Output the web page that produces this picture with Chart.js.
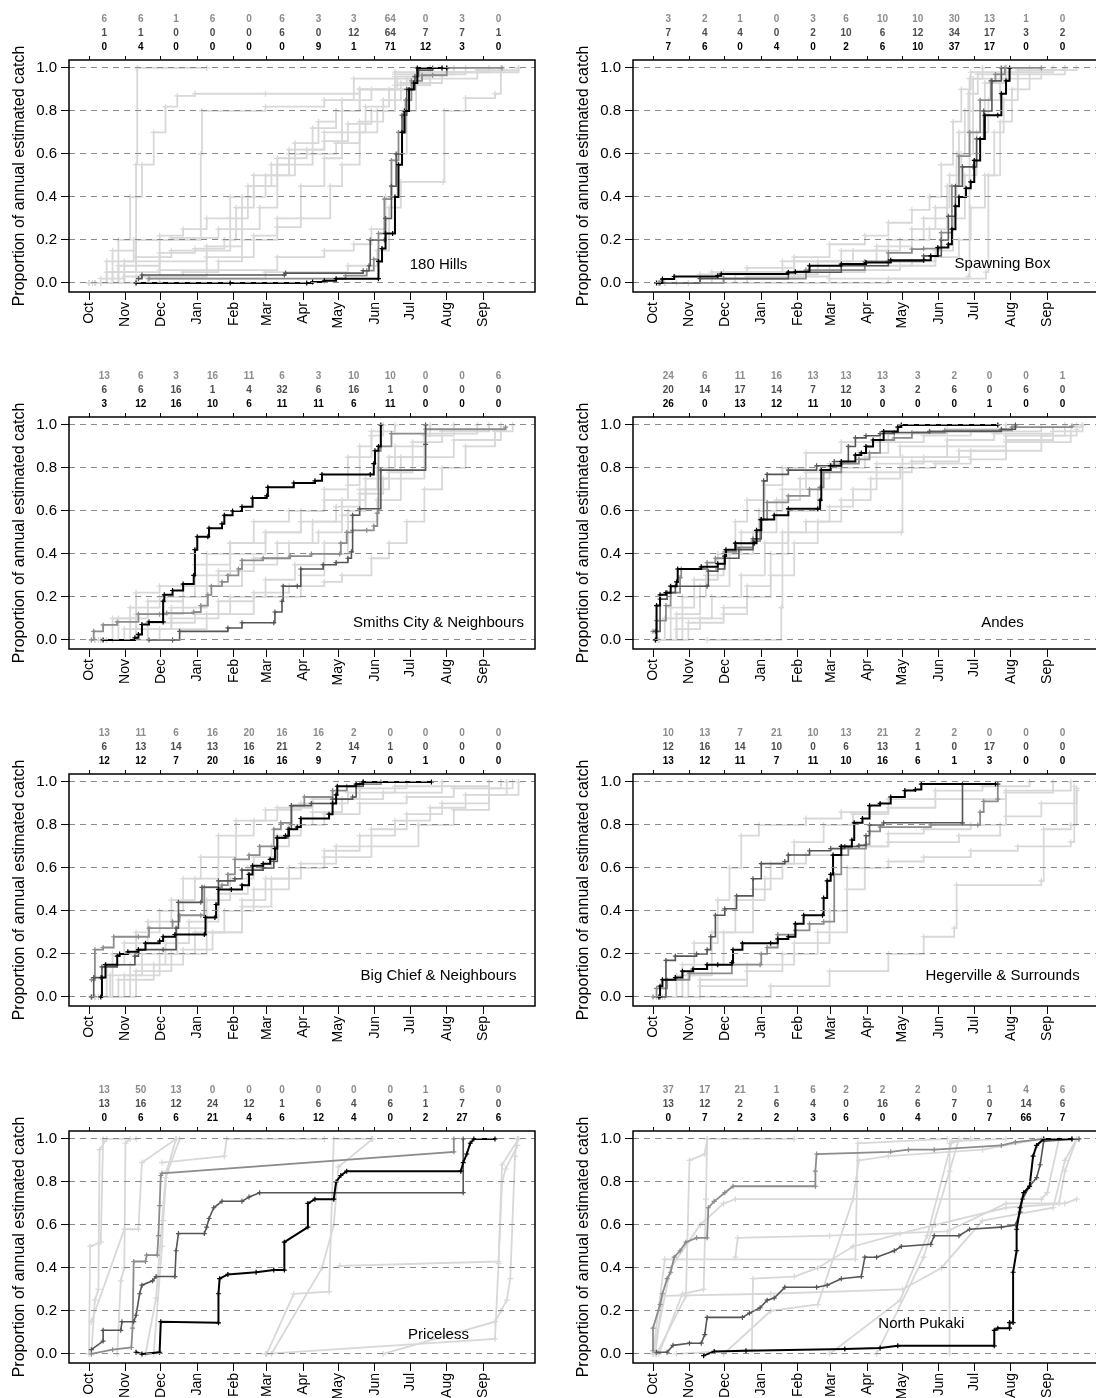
<!DOCTYPE html>
<html>
<head>
<meta charset="utf-8">
<script src="https://cdn.jsdelivr.net/npm/chart.js@4.4.1/dist/chart.umd.min.js"></script>
<style>
  html, body { margin: 0; padding: 0; background: #fff; }
  body { width: 1096px; height: 1398px; overflow: hidden; position: relative; }
  canvas { position: absolute; }
</style>
</head>
<body>
<canvas id="p0" width="548" height="357"></canvas>
<canvas id="p1" width="548" height="357"></canvas>
<canvas id="p2" width="548" height="357"></canvas>
<canvas id="p3" width="548" height="357"></canvas>
<canvas id="p4" width="548" height="357"></canvas>
<canvas id="p5" width="548" height="357"></canvas>
<canvas id="p6" width="548" height="357"></canvas>
<canvas id="p7" width="548" height="357"></canvas>
<script>
// x values are days since 1 October
const months = ["Oct", "Nov", "Dec", "Jan", "Feb", "Mar", "Apr", "May", "Jun", "Jul", "Aug", "Sep"];
const monthStarts = [0, 31, 61, 92, 123, 151, 182, 212, 243, 273, 304, 335];
const yTicks = [0, 0.2, 0.4, 0.6, 0.8, 1.0];

// ---- 180 Hills
const hillsCounts = [
  [6, 6, 1, 6, 0, 6, 3, 3, 64, 0, 3, 0],
  [1, 1, 0, 0, 0, 6, 0, 12, 64, 7, 7, 1],
  [0, 4, 0, 0, 0, 0, 9, 1, 71, 12, 3, 0]
];
const hillsBlack = [[40,0],[120,0],[185,0],[190,0.005],[200,0.01],[210,0.02],[246,0.02],[246,0.1],[249,0.16],[252,0.23],[258,0.23],[260,0.4],[263,0.55],[266,0.7],[268,0.8],[272,0.9],[276,0.93],[279,1.0],[300,1.0],[304,1.0]];
const hillsDarkGrey = [[42,0.02],[45,0.037],[166,0.037],[167,0.046],[233,0.057],[238,0.08],[239,0.2],[251,0.2],[252,0.3],[257,0.45],[261,0.6],[266,0.78],[270,0.9],[277,0.96],[280,0.99],[292,1.0]];
const hillsMidGrey = [[51,0.02],[218,0.034],[236,0.057],[242,0.11],[246,0.23],[251,0.39],[257,0.57],[263,0.7],[269,0.85],[274,0.94],[283,0.966],[292,0.966],[304,1.0],[351,1.0]];
const hillsOthers = [
  [[5,0],[15,0.1],[25,0.2],[35,0.4],[45,0.55],[55,0.7],[65,0.82],[75,0.87],[90,0.88],[150,0.88],[230,0.9],[270,0.95],[330,0.99],[365,1.0]],
  [[10,0.02],[30,0.1],[38,0.2],[40,0.55],[41,1.0],[100,1.0]],
  [[5,0],[20,0.15],[40,0.2],[70,0.21],[110,0.25],[130,0.4],[150,0.5],[170,0.6],[190,0.72],[210,0.8],[230,0.9],[260,0.96],[290,1.0]],
  [[10,0],[30,0.05],[60,0.1],[100,0.15],[120,0.3],[135,0.45],[155,0.55],[170,0.62],[200,0.7],[215,0.85],[225,0.95],[260,0.98],[300,1.0]],
  [[5,0],[30,0.03],[80,0.05],[110,0.1],[130,0.25],[145,0.35],[160,0.5],[175,0.65],[195,0.75],[210,0.8],[230,0.9],[262,0.95],[290,1.0]],
  [[10,0],[60,0.06],[100,0.12],[140,0.22],[160,0.26],[180,0.3],[205,0.45],[215,0.55],[230,0.7],[245,0.8],[260,0.9],[275,0.97],[320,1.0]],
  [[0,0],[40,0.03],[100,0.06],[160,0.12],[200,0.15],[225,0.18],[240,0.25],[252,0.4],[262,0.6],[270,0.8],[278,0.92],[290,0.98],[340,1.0]],
  [[0,0],[50,0.02],[150,0.05],[220,0.08],[245,0.15],[255,0.35],[265,0.47],[301,0.47],[302,0.8],[320,0.86],[345,0.88],[350,0.98],[365,1.0]],
  [[5,0],[25,0.1],[60,0.2],[95,0.6],[96,0.8],[150,0.82],[200,0.85],[240,0.9],[260,0.97],[290,1.0]],
  [[0,0],[20,0.05],[40,0.2],[60,0.22],[80,0.25],[100,0.3],[120,0.4],[140,0.45],[160,0.55],[190,0.6],[210,0.65],[230,0.75],[250,0.85],[265,0.93],[300,0.98],[350,1.0]],
  [[3,0],[15,0.05],[40,0.12],[70,0.15],[100,0.17],[130,0.2],[160,0.3],[180,0.45],[200,0.58],[215,0.7],[235,0.82],[255,0.9],[275,0.97],[310,1.0]],
  [[5,0],[25,0.08],[60,0.14],[90,0.16],[115,0.2],[125,0.35],[140,0.5],[160,0.58],[185,0.62],[200,0.66],[220,0.74],[240,0.8],[260,0.92],[280,0.98]]
];

// ---- Spawning Box
const spawningCounts = [
  [3, 2, 1, 0, 3, 6, 10, 10, 30, 13, 1, 0],
  [7, 4, 4, 0, 2, 10, 6, 12, 34, 17, 3, 2],
  [7, 6, 0, 4, 0, 2, 6, 10, 37, 17, 0, 0]
];
const spawningBlack = [[3,0],[8,0.018],[18,0.03],[55,0.034],[58,0.042],[115,0.049],[121,0.052],[133,0.08],[160,0.088],[181,0.095],[202,0.106],[230,0.106],[236,0.126],[242,0.165],[251,0.18],[254,0.25],[257,0.357],[260,0.4],[266,0.44],[270,0.47],[273,0.57],[278,0.67],[282,0.78],[293,0.78],[296,0.88],[300,0.94],[303,1.0]];
const spawningDarkGrey = [[6,0],[40,0.02],[115,0.05],[160,0.08],[200,0.1],[230,0.126],[245,0.2],[251,0.31],[257,0.45],[263,0.54],[272,0.54],[275,0.67],[281,0.8],[288,0.94],[296,1.0]];
const spawningMidGrey = [[5,0],[60,0.02],[130,0.06],[180,0.1],[200,0.14],[220,0.157],[230,0.16],[245,0.234],[254,0.45],[260,0.59],[269,0.7],[278,0.85],[287,0.94],[291,0.97],[299,1.0],[330,1.0]];
const spawningOthers = [
  [[5,0],[40,0.04],[80,0.07],[120,0.12],[150,0.18],[180,0.22],[200,0.28],[220,0.34],[235,0.4],[245,0.55],[255,0.75],[262,0.9],[270,0.98],[300,1.0]],
  [[10,0],[50,0.05],[110,0.1],[160,0.15],[200,0.2],[230,0.3],[250,0.45],[262,0.6],[272,0.8],[282,0.93],[300,0.98],[340,1.0]],
  [[10,0],[60,0.02],[120,0.05],[180,0.08],[220,0.1],[240,0.15],[255,0.3],[265,0.5],[275,0.7],[285,0.85],[295,0.95],[310,0.99],[350,1.0]],
  [[20,0],[150,0.02],[268,0.03],[269,0.95],[280,1.0]],
  [[30,0],[200,0.02],[283,0.05],[285,0.5],[295,0.75],[305,0.9],[320,0.97],[350,1.0]],
  [[5,0],[60,0.05],[120,0.1],[170,0.15],[210,0.2],[235,0.25],[250,0.4],[258,0.6],[265,0.8],[272,0.95],[300,1.0]],
  [[10,0],[80,0.03],[150,0.06],[210,0.08],[240,0.12],[260,0.2],[270,0.35],[282,0.5],[290,0.7],[298,0.85],[310,0.95],[330,0.99],[360,1.0]],
  [[5,0],[70,0.04],[140,0.1],[190,0.17],[220,0.25],[240,0.35],[252,0.5],[260,0.7],[268,0.88],[276,0.97],[320,1.0]]
];

// ---- Smiths City & Neighbours
const smithsCounts = [
  [13, 6, 3, 16, 11, 6, 3, 10, 10, 0, 0, 6],
  [6, 6, 16, 1, 4, 32, 6, 16, 1, 0, 0, 0],
  [3, 12, 16, 10, 6, 11, 11, 6, 11, 0, 0, 0]
];
const smithsBlack = [[12,0],[39,0.01],[42,0.026],[45,0.072],[51,0.084],[63,0.084],[63,0.18],[64,0.21],[71,0.23],[80,0.26],[89,0.3],[90,0.42],[92,0.48],[101,0.48],[102,0.52],[113,0.54],[115,0.58],[122,0.6],[130,0.62],[139,0.66],[151,0.67],[152,0.71],[174,0.73],[192,0.74],[198,0.77],[239,0.77],[242,0.82],[243,0.88],[246,0.9],[248,1.0]];
const smithsDarkGrey = [[51,0],[71,0],[77,0.04],[118,0.056],[130,0.08],[157,0.08],[158,0.13],[164,0.18],[165,0.25],[177,0.25],[180,0.33],[199,0.35],[210,0.36],[220,0.38],[223,0.41],[224,0.58],[230,0.61],[248,0.79],[286,0.91],[286,1.0]];
const smithsMidGrey = [[2,0],[4,0.04],[12,0.07],[24,0.084],[42,0.12],[60,0.12],[66,0.125],[89,0.13],[95,0.16],[101,0.21],[104,0.25],[113,0.27],[118,0.3],[127,0.33],[130,0.37],[148,0.38],[171,0.39],[189,0.4],[213,0.4],[214,0.45],[219,0.5],[224,0.51],[236,0.51],[242,0.53],[245,0.59],[246,0.88],[248,0.9],[257,0.96],[286,0.98],[354,0.99]];
const smithsOthers = [
  [[5,0],[20,0.1],[40,0.22],[60,0.25],[90,0.3],[120,0.4],[150,0.5],[180,0.6],[200,0.7],[220,0.85],[240,0.95],[250,1.0]],
  [[10,0],[40,0.05],[70,0.15],[100,0.25],[130,0.35],[160,0.45],[190,0.55],[215,0.65],[235,0.75],[255,0.85],[275,0.92],[300,0.97],[340,1.0]],
  [[15,0],[50,0.08],[90,0.12],[120,0.2],[150,0.28],[175,0.35],[200,0.45],[220,0.55],[245,0.65],[265,0.75],[285,0.85],[310,0.93],[350,1.0]],
  [[5,0],[30,0.05],[70,0.1],[110,0.18],[140,0.22],[170,0.25],[200,0.27],[215,0.3],[240,0.38],[255,0.45],[270,0.55],[285,0.7],[300,0.8],[320,0.9],[345,0.97],[360,1.0]],
  [[10,0],[40,0.12],[80,0.2],[100,0.4],[120,0.45],[150,0.5],[180,0.55],[210,0.62],[230,0.7],[245,0.8],[260,0.9],[285,0.95],[310,1.0]],
  [[20,0],[60,0.05],[100,0.12],[140,0.2],[180,0.3],[200,0.4],[220,0.6],[235,0.7],[255,0.78],[275,0.85],[286,0.95],[290,1.0]],
  [[8,0],[35,0.15],[60,0.2],[90,0.35],[120,0.45],[140,0.55],[170,0.6],[200,0.65],[220,0.72],[230,0.9],[240,0.97],[260,1.0]],
  [[5,0],[25,0.1],[50,0.18],[80,0.25],[110,0.32],[140,0.38],[170,0.45],[195,0.5],[215,0.58],[230,0.68],[250,0.75],[265,0.85],[285,0.96],[330,1.0]]
];

// ---- Andes
const andesCounts = [
  [24, 6, 11, 16, 13, 13, 13, 3, 2, 0, 0, 1],
  [20, 14, 17, 14, 7, 12, 3, 2, 6, 0, 6, 0],
  [26, 0, 13, 12, 11, 10, 0, 0, 0, 1, 0, 0]
];
const andesBlack = [[2,0],[3,0.16],[6,0.21],[11,0.22],[15,0.25],[20,0.27],[21,0.33],[41,0.34],[55,0.355],[61,0.39],[62,0.42],[70,0.45],[86,0.45],[88,0.51],[92,0.56],[103,0.58],[115,0.61],[140,0.61],[142,0.65],[143,0.79],[151,0.81],[160,0.83],[172,0.86],[177,0.87],[181,0.9],[187,0.93],[196,0.97],[208,0.99],[211,1.0],[293,1.0]];
const andesDarkGrey = [[2,0.04],[6,0.19],[12,0.22],[19,0.25],[46,0.25],[47,0.32],[55,0.33],[61,0.38],[73,0.42],[85,0.47],[92,0.56],[94,0.74],[97,0.77],[115,0.79],[139,0.81],[154,0.83],[166,0.9],[172,0.94],[181,0.95],[193,0.96],[205,0.965],[235,0.97],[296,0.98],[308,1.0]];
const andesMidGrey = [[0,0.04],[3,0.09],[11,0.16],[15,0.22],[23,0.29],[24,0.33],[46,0.36],[53,0.38],[61,0.41],[71,0.43],[85,0.46],[91,0.56],[97,0.64],[115,0.67],[133,0.7],[142,0.71],[145,0.78],[160,0.82],[175,0.84],[184,0.87],[193,0.93],[205,0.94],[220,0.965],[248,0.975],[305,0.99],[356,0.995]];
const andesOthers = [
  [[2,0],[10,0.1],[25,0.2],[45,0.3],[60,0.4],[75,0.5],[90,0.6],[110,0.7],[130,0.78],[150,0.82],[175,0.87],[200,0.92],[230,0.95],[270,0.97],[330,0.99],[360,1.0]],
  [[5,0],[20,0.05],[40,0.1],[60,0.15],[80,0.25],[100,0.4],[115,0.5],[130,0.55],[150,0.62],[170,0.7],[190,0.78],[220,0.83],[260,0.88],[300,0.93],[340,0.97],[365,1.0]],
  [[3,0],[15,0.15],[35,0.28],[55,0.4],[70,0.55],[80,0.65],[95,0.72],[110,0.8],[130,0.87],[160,0.92],[200,0.96],[250,0.98],[300,1.0]],
  [[46,0],[109,0.15],[110,0.5],[211,0.5],[212,0.85],[250,0.9],[300,0.95],[350,1.0]],
  [[5,0],[25,0.1],[50,0.2],[75,0.3],[95,0.45],[115,0.6],[140,0.7],[160,0.78],[190,0.82],[230,0.85],[270,0.88],[300,0.92],[330,0.95],[360,0.98]],
  [[3,0],[20,0.12],[40,0.25],[65,0.4],[85,0.5],[105,0.65],[125,0.75],[150,0.8],[180,0.85],[210,0.9],[250,0.93],[290,0.96],[340,0.99],[365,1.0]],
  [[5,0],[30,0.08],[60,0.12],[80,0.2],[100,0.3],[120,0.45],[140,0.55],[160,0.65],[185,0.75],[210,0.8],[240,0.82],[270,0.84],[300,0.88],[330,0.92],[355,0.97]]
];

// ---- Big Chief & Neighbours
const bigChiefCounts = [
  [13, 11, 6, 16, 20, 16, 16, 2, 0, 0, 0, 0],
  [6, 13, 14, 13, 16, 21, 2, 14, 1, 0, 0, 0],
  [12, 12, 7, 20, 16, 16, 9, 7, 0, 1, 0, 0]
];
const bigChiefBlack = [[10,0],[11,0.09],[14,0.15],[24,0.19],[26,0.2],[33,0.21],[42,0.22],[48,0.25],[60,0.26],[63,0.28],[73,0.29],[98,0.29],[99,0.37],[107,0.37],[108,0.43],[110,0.5],[121,0.5],[130,0.52],[136,0.57],[139,0.61],[148,0.62],[154,0.64],[158,0.69],[160,0.74],[167,0.75],[170,0.78],[177,0.79],[180,0.83],[204,0.85],[207,0.9],[210,0.94],[211,0.98],[227,0.99],[233,1.0],[291,1.0]];
const bigChiefDarkGrey = [[2,0],[4,0.09],[10,0.09],[11,0.14],[24,0.15],[39,0.19],[42,0.22],[63,0.22],[74,0.32],[76,0.44],[95,0.44],[96,0.51],[110,0.54],[124,0.55],[130,0.59],[148,0.6],[157,0.63],[160,0.74],[169,0.78],[172,0.89],[189,0.9],[207,0.92],[224,0.93],[227,0.98],[233,1.0]];
const bigChiefMidGrey = [[2,0.08],[5,0.22],[12,0.23],[21,0.28],[42,0.28],[51,0.32],[71,0.35],[77,0.38],[95,0.38],[98,0.51],[113,0.52],[118,0.57],[124,0.64],[136,0.66],[145,0.7],[157,0.78],[163,0.81],[172,0.89],[183,0.93],[207,0.96],[219,0.98],[230,0.99],[248,1.0]];
const bigChiefOthers = [
  [[2,0],[15,0.15],[30,0.25],[50,0.35],[70,0.45],[90,0.55],[110,0.65],[125,0.75],[140,0.82],[160,0.88],[190,0.92],[230,0.97],[270,1.0]],
  [[5,0],[30,0.1],[60,0.2],[90,0.3],[115,0.4],[140,0.5],[170,0.6],[200,0.68],[230,0.75],[260,0.82],[290,0.88],[320,0.94],[355,1.0]],
  [[5,0],[25,0.08],[55,0.15],[80,0.22],[105,0.3],[130,0.42],[155,0.55],[180,0.62],[210,0.7],[240,0.78],[270,0.85],[300,0.9],[340,0.97],[360,1.0]],
  [[3,0],[20,0.2],[40,0.3],[60,0.4],[80,0.55],[95,0.65],[110,0.75],[125,0.82],[150,0.87],[180,0.9],[220,0.95],[260,0.98],[300,1.0]],
  [[8,0],[40,0.12],[70,0.2],[100,0.3],[130,0.45],[150,0.55],[170,0.6],[200,0.65],[240,0.7],[280,0.8],[310,0.87],[340,0.94],[365,1.0]],
  [[3,0],[18,0.1],[45,0.2],[75,0.32],[100,0.45],[120,0.55],[140,0.65],[160,0.75],[180,0.8],[200,0.85],[230,0.9],[270,0.93],[310,0.97],[350,1.0]],
  [[5,0],[35,0.15],[65,0.25],[85,0.35],[110,0.48],[135,0.6],[155,0.7],[170,0.8],[190,0.86],[215,0.92],[250,0.95],[300,0.98],[340,1.0]]
];

// ---- Hegerville & Surrounds
const hegervilleCounts = [
  [10, 13, 7, 21, 10, 13, 21, 2, 2, 0, 0, 0],
  [12, 16, 14, 10, 0, 6, 13, 1, 0, 17, 0, 0],
  [13, 12, 11, 7, 11, 10, 16, 6, 1, 3, 0, 0]
];
const hegervilleBlack = [[5,0],[6,0.05],[8,0.08],[19,0.09],[25,0.12],[34,0.13],[46,0.15],[55,0.15],[67,0.16],[68,0.22],[76,0.25],[100,0.25],[106,0.27],[115,0.28],[121,0.34],[128,0.38],[144,0.38],[145,0.46],[148,0.54],[151,0.57],[153,0.66],[160,0.7],[169,0.73],[171,0.81],[178,0.83],[184,0.89],[193,0.9],[202,0.93],[214,0.96],[223,0.965],[228,0.99],[291,0.99]];
const hegervilleDarkGrey = [[6,0],[11,0.17],[19,0.19],[37,0.2],[46,0.22],[49,0.28],[53,0.38],[61,0.41],[71,0.47],[85,0.55],[92,0.62],[112,0.63],[115,0.66],[133,0.68],[151,0.69],[163,0.7],[175,0.705],[181,0.75],[184,0.8],[196,0.81],[263,0.81],[263,0.99],[293,0.99]];
const hegervilleMidGrey = [[0,0],[3,0.04],[12,0.08],[31,0.11],[67,0.15],[91,0.15],[92,0.2],[97,0.23],[106,0.29],[121,0.31],[133,0.34],[145,0.35],[154,0.57],[160,0.66],[166,0.69],[181,0.71],[184,0.77],[193,0.79],[236,0.8],[276,0.8],[278,0.86],[281,0.91],[293,0.92],[293,0.99]];
const hegervilleOthers = [
  [[40,0],[100,0.05],[150,0.12],[200,0.2],[230,0.28],[256,0.32],[258,0.52],[330,0.54],[332,0.78],[355,0.8],[360,0.97]],
  [[5,0],[20,0.1],[35,0.25],[55,0.45],[65,0.6],[75,0.75],[90,0.8],[130,0.83],[160,0.86],[200,0.92],[240,0.96],[280,0.98],[320,1.0]],
  [[3,0],[30,0.1],[50,0.3],[70,0.45],[95,0.55],[110,0.62],[130,0.66],[160,0.7],[200,0.72],[260,0.75],[295,0.8],[300,0.95],[340,1.0]],
  [[10,0],[40,0.05],[80,0.12],[110,0.2],[140,0.3],[165,0.5],[180,0.6],[200,0.63],[230,0.65],[270,0.68],[310,0.7],[355,0.72],[358,0.98]],
  [[5,0],[25,0.15],[60,0.3],[85,0.5],[100,0.62],[120,0.72],[145,0.8],[170,0.85],[200,0.88],[240,0.92],[300,0.96],[355,1.0]],
  [[8,0],[40,0.08],[80,0.15],[120,0.25],[150,0.4],[165,0.6],[180,0.7],[200,0.76],[230,0.78],[270,0.8],[300,0.84],[330,0.9],[360,0.96]]
];

// ---- Priceless
const pricelessCounts = [
  [13, 50, 13, 0, 0, 0, 0, 0, 0, 1, 6, 0],
  [13, 16, 12, 24, 12, 1, 6, 4, 6, 1, 7, 0],
  [0, 6, 6, 21, 4, 6, 12, 4, 0, 2, 27, 6]
];
const pricelessBlack = [[40,0.008],[45,0],[60,0.008],[61,0.15],[110,0.145],[110,0.28],[111,0.35],[118,0.37],[142,0.38],[157,0.39],[166,0.39],[166,0.52],[186,0.59],[186,0.7],[192,0.72],[208,0.72],[210,0.8],[214,0.83],[219,0.85],[316,0.85],[318,0.89],[321,0.93],[324,0.98],[327,1.0],[345,1.0]];
const pricelessDarkGrey = [[2,0.02],[12,0.06],[12,0.11],[27,0.11],[28,0.15],[38,0.15],[40,0.18],[43,0.28],[45,0.32],[54,0.34],[57,0.36],[73,0.36],[74,0.48],[76,0.56],[98,0.56],[100,0.59],[102,0.63],[106,0.68],[113,0.71],[130,0.71],[136,0.73],[145,0.75],[318,0.75],[318,1.0]];
const pricelessMidGrey = [[2,0],[20,0.02],[36,0.03],[37,0.12],[38,0.43],[48,0.43],[49,0.46],[58,0.46],[59,0.55],[60,0.69],[61,0.83],[62,0.84],[310,0.94],[310,1.0]];
const pricelessOthers = [
  [[0,0],[1,0.5],[10,0.52],[12,1.0],[40,1.0]],
  [[2,0],[5,0.25],[8,0.3],[9,0.95],[15,1.0]],
  [[2,0.15],[30,0.58],[42,0.58],[45,0.89],[74,1.0]],
  [[24,0],[27,0.34],[30,0.4],[31,0.98],[35,1.0]],
  [[55,0],[62,0.5],[63,0.62],[66,0.85],[74,1.0]],
  [[48,0],[57,0.26],[65,0.82],[77,1.0]],
  [[62,0.89],[115,0.92],[117,1.0],[200,1.0]],
  [[151,0],[174,0.28],[204,0.29],[208,1.0],[240,1.0]],
  [[155,0],[198,0.4],[208,0.6],[212,0.87],[241,1.0]],
  [[150,0],[345,0.07],[348,0.42],[351,0.8],[354,0.86],[364,0.97]],
  [[213,0.41],[348,0.43],[351,0.88],[365,1.0]],
  [[250,0],[345,0.15],[350,0.2],[355,0.25],[358,0.35],[362,0.92],[364,1.0]]
];

// ---- North Pukaki
const pukakiCounts = [
  [37, 17, 21, 1, 6, 2, 2, 2, 0, 1, 4, 6],
  [13, 12, 2, 6, 4, 0, 16, 6, 7, 0, 14, 6],
  [0, 7, 2, 2, 3, 6, 0, 4, 0, 7, 66, 7]
];
const pukakiBlack = [[43,-0.008],[52,0.012],[79,0.015],[163,0.023],[193,0.028],[208,0.038],[290,0.038],[290,0.11],[293,0.12],[303,0.12],[303,0.146],[306,0.146],[306,0.38],[309,0.48],[309,0.58],[312,0.68],[315,0.75],[320,0.78],[323,0.92],[326,0.97],[332,1.0],[356,1.0]];
const pukakiDarkGrey = [[3,0.008],[12,0.008],[17,0.04],[31,0.05],[41,0.05],[44,0.09],[46,0.17],[76,0.17],[82,0.19],[91,0.215],[97,0.25],[103,0.26],[112,0.31],[139,0.31],[148,0.32],[160,0.35],[177,0.36],[180,0.45],[190,0.45],[205,0.48],[211,0.5],[236,0.51],[239,0.55],[260,0.55],[269,0.58],[296,0.59],[308,0.6],[312,0.66],[314,0.72],[320,0.78],[326,0.82],[329,0.88],[332,0.99],[362,1.0]];
const pukakiMidGrey = [[0,0.015],[0,0.12],[6,0.23],[8,0.28],[12,0.35],[15,0.38],[18,0.45],[23,0.48],[28,0.52],[37,0.54],[46,0.54],[47,0.68],[52,0.71],[61,0.75],[68,0.78],[138,0.78],[138,0.85],[139,0.93],[202,0.94],[217,0.95],[239,0.95],[296,0.97],[308,0.985],[332,1.0],[356,1.0]];
const pukakiOthers = [
  [[0,0],[10,0.44],[172,0.44],[174,0.98],[250,1.0]],
  [[2,0],[8,0.27],[100,0.28],[212,0.3],[245,0.4],[280,0.62],[340,0.68],[350,0.9],[360,1.0]],
  [[5,0],[25,0.28],[43,0.3],[45,0.72],[46,1.0],[120,1.0]],
  [[3,0],[28,0.27],[31,0.9],[44,0.93],[46,1.0]],
  [[70,0.45],[72,0.54],[150,0.55],[250,0.57],[300,0.7],[345,0.7],[350,0.85],[360,1.0]],
  [[150,0],[210,0.25],[233,0.55],[254,0.99],[300,1.0]],
  [[190,0],[230,0.45],[252,0.85],[260,1.0]],
  [[252,0],[252,0.98],[270,1.0]],
  [[0,0],[15,0.4],[40,0.6],[60,0.7],[70,0.72],[330,0.72],[335,0.75],[345,1.0]],
  [[60,0],[100,0.2],[140,0.23],[170,0.72],[175,0.9],[200,0.92],[280,0.95],[330,1.0]],
  [[20,0],[84,0.02],[85,0.35],[120,0.36],[140,0.4],[170,0.5],[210,0.56],[240,0.6],[300,0.68],[350,0.7],[360,0.72]]
];

const panels = [
  { name: "180 Hills", counts: hillsCounts, black: hillsBlack, dark: hillsDarkGrey, mid: hillsMidGrey, others: hillsOthers, stepped: true, labelAt: [297, 0.085] },
  { name: "Spawning Box", counts: spawningCounts, black: spawningBlack, dark: spawningDarkGrey, mid: spawningMidGrey, others: spawningOthers, stepped: true, labelAt: [297, 0.09] },
  { name: "Smiths City & Neighbours", counts: smithsCounts, black: smithsBlack, dark: smithsDarkGrey, mid: smithsMidGrey, others: smithsOthers, stepped: true, labelAt: [297, 0.08] },
  { name: "Andes", counts: andesCounts, black: andesBlack, dark: andesDarkGrey, mid: andesMidGrey, others: andesOthers, stepped: true, labelAt: [297, 0.08] },
  { name: "Big Chief & Neighbours", counts: bigChiefCounts, black: bigChiefBlack, dark: bigChiefDarkGrey, mid: bigChiefMidGrey, others: bigChiefOthers, stepped: true, labelAt: [297, 0.1] },
  { name: "Hegerville & Surrounds", counts: hegervilleCounts, black: hegervilleBlack, dark: hegervilleDarkGrey, mid: hegervilleMidGrey, others: hegervilleOthers, stepped: true, labelAt: [297, 0.1] },
  { name: "Priceless", counts: pricelessCounts, black: pricelessBlack, dark: pricelessDarkGrey, mid: pricelessMidGrey, others: pricelessOthers, stepped: false, labelAt: [297, 0.09] },
  { name: "North Pukaki", counts: pukakiCounts, black: pukakiBlack, dark: pukakiDarkGrey, mid: pukakiMidGrey, others: pukakiOthers, stepped: false, labelAt: [228, 0.14] }
];

Chart.defaults.font.family = '"Liberation Sans", Arial, sans-serif';
Chart.defaults.color = "#000";

const countColours = ["#8c8c8c", "#4d4d4d", "#000"];
const countOffsets = [41, 27, 13];

function series(points, colour, width, stepped, radius) {
  return {
    data: points.map(([x, y]) => ({ x, y })),
    borderColor: colour,
    backgroundColor: colour,
    borderWidth: width,
    pointStyle: "cross",
    pointRadius: radius,
    pointBorderColor: colour,
    pointBorderWidth: 1.2,
    pointHoverRadius: 0,
    stepped: stepped,
    tension: 0,
    fill: false
  };
}

function decor(p) {
  return {
    id: "decor",
    afterDraw(chart) {
      const { ctx, chartArea: a } = chart;
      const x = chart.scales.x, y = chart.scales.y;
      ctx.save();
      ctx.textAlign = "center";
      ctx.textBaseline = "middle";
      ctx.font = 'bold 10px "Liberation Sans"';
      p.counts.forEach((row, r) => {
        ctx.fillStyle = countColours[r];
        row.forEach((n, i) => {
          ctx.fillText(String(n), x.getPixelForValue(monthStarts[i] + 13), a.top - countOffsets[r]);
        });
      });
      ctx.fillStyle = "#000";
      ctx.font = '15px "Liberation Sans"';
      ctx.fillText(p.name, x.getPixelForValue(p.labelAt[0]), y.getPixelForValue(p.labelAt[1]));
      ctx.strokeStyle = "#000";
      ctx.lineWidth = 1.5;
      ctx.strokeRect(a.left, a.top, a.right - a.left, a.bottom - a.top);
      ctx.restore();
    }
  };
}

panels.forEach((p, i) => {
  const canvas = document.getElementById("p" + i);
  canvas.style.left = (i % 2) * 564 + "px";
  canvas.style.top = Math.floor(i / 2) * 357 + "px";

  const datasets = [
    series(p.black, "#000", 2, p.stepped, 2.5),
    series(p.dark, "#555", 1.6, p.stepped, 2.5),
    series(p.mid, "#8c8c8c", 1.8, p.stepped, 2.5)
  ].concat(p.others.map((o) => series(o, "#d8d8d8", 1.8, p.stepped, 3)));

  new Chart(canvas, {
    type: "line",
    data: { datasets },
    options: {
      responsive: false,
      animation: false,
      devicePixelRatio: 1,
      events: [],
      layout: { padding: { left: 0, right: 13, top: 0, bottom: 0 } },
      plugins: { legend: { display: false }, tooltip: { enabled: false } },
      scales: {
        x: {
          type: "linear",
          position: "bottom",
          min: -17,
          max: 379,
          afterBuildTicks: (s) => { s.ticks = monthStarts.map((v) => ({ value: v })); },
          afterFit: (s) => { s.height = 65; },
          ticks: {
            autoSkip: false,
            minRotation: 90,
            maxRotation: 90,
            padding: 2,
            font: { size: 14 },
            callback: (v, idx) => months[idx]
          },
          grid: { drawOnChartArea: false, drawTicks: true, tickLength: 8, tickColor: "#000" },
          border: { display: false }
        },
        x2: {
          type: "linear",
          position: "top",
          min: -17,
          max: 379,
          afterBuildTicks: (s) => { s.ticks = monthStarts.map((v) => ({ value: v })); },
          afterFit: (s) => { s.height = 60; },
          ticks: { display: false },
          grid: { drawOnChartArea: false, drawTicks: true, tickLength: 4, tickColor: "#000" },
          border: { display: false }
        },
        y: {
          type: "linear",
          min: -0.042,
          max: 1.037,
          afterBuildTicks: (s) => { s.ticks = yTicks.map((v) => ({ value: v })); },
          afterFit: (s) => { s.width = 69; },
          ticks: { padding: 4, font: { size: 15 }, callback: (v) => v.toFixed(1) },
          grid: { color: "#8a8a8a", lineWidth: 1, z: 1, drawTicks: true, tickLength: 8, tickColor: "#000", tickBorderDash: [] },
          border: { display: false, dash: [6, 5] },
          title: {
            display: true,
            text: "Proportion of annual estimated catch",
            font: { size: 16 },
            padding: { top: 10, bottom: 0 }
          }
        }
      }
    },
    plugins: [decor(p)]
  });
});
</script>
</body>
</html>
